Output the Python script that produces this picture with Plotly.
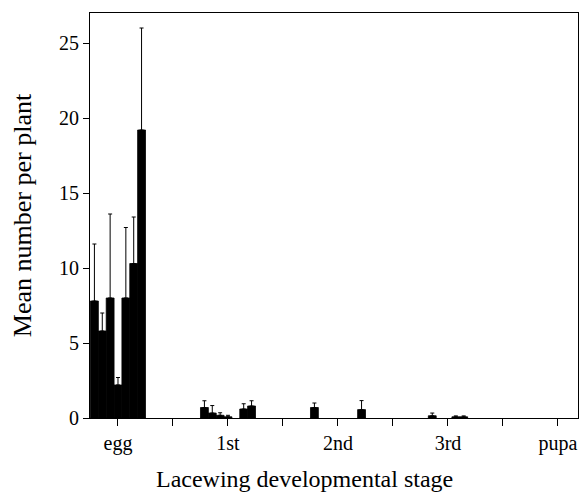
import plotly.graph_objects as go

stages = ["egg", "1st", "2nd", "3rd", "pupa"]
stage_pos = [0, 1, 2, 3, 4]

# seven sampling series (means and upper standard errors) per stage; None = no bar
means = [
    [7.8, 0.7, 0.7, None, None],
    [5.8, 0.33, None, 0.15, None],
    [8.0, 0.18, None, None, None],
    [2.2, 0.08, None, None, None],
    [8.0, None, None, 0.08, None],
    [10.3, 0.6, None, 0.08, None],
    [19.2, 0.8, 0.56, None, None],
]
errors = [
    [3.8, 0.45, 0.3, 0.0, 0.0],
    [1.2, 0.5, 0.0, 0.18, 0.0],
    [5.6, 0.17, 0.0, 0.0, 0.0],
    [0.5, 0.1, 0.0, 0.0, 0.0],
    [4.7, 0.0, 0.0, 0.06, 0.0],
    [3.1, 0.35, 0.0, 0.06, 0.0],
    [6.8, 0.35, 0.6, 0.0, 0.0],
]

fig = go.Figure()
for m, e in zip(means, errors):
    fig.add_trace(go.Bar(
        x=stage_pos, y=m,
        marker=dict(color="black", line=dict(width=0.8, color="black")),
        error_y=dict(type="data", array=e, arrayminus=[0] * len(e), symmetric=False,
                     color="black", thickness=1, width=2),
        showlegend=False,
    ))

tickvals = [0, 0.5, 1, 1.5, 2, 2.5, 3, 3.5, 4]
ticktext = ["egg", "", "1st", "", "2nd", "", "3rd", "", "pupa"]

fig.update_layout(
    width=579, height=495,
    margin=dict(l=90, r=1, t=13, b=77),
    paper_bgcolor="white", plot_bgcolor="white",
    barmode="group", bargap=0.5, bargroupgap=0,
    font=dict(family="Liberation Serif", color="black", size=19),
    xaxis=dict(
        range=[-0.2545, 4.182], tickvals=tickvals, ticktext=ticktext,
        ticks="outside", ticklen=7, tickwidth=1, tickcolor="black",
        showline=True, linecolor="black", linewidth=1, mirror=True,
        showgrid=False, zeroline=False,
        tickfont=dict(size=20), ticklabeloverflow="allow",
    ),
    yaxis=dict(
        range=[0, 27], tickvals=[0, 5, 10, 15, 20, 25],
        ticks="outside", ticklen=6, tickwidth=1, tickcolor="black",
        showline=True, linecolor="black", linewidth=1, mirror=True,
        showgrid=False, zeroline=False,
        tickfont=dict(size=20),
        title=dict(text="Mean number per plant", font=dict(size=26), standoff=19),
    ),
    annotations=[dict(
        text="Lacewing developmental stage", xref="paper", yref="paper",
        x=(304 - 90) / 488, y=-(479 - 418) / 405, xanchor="center", yanchor="middle",
        showarrow=False, font=dict(size=24),
    )],
)

fig.write_html("out.html")
